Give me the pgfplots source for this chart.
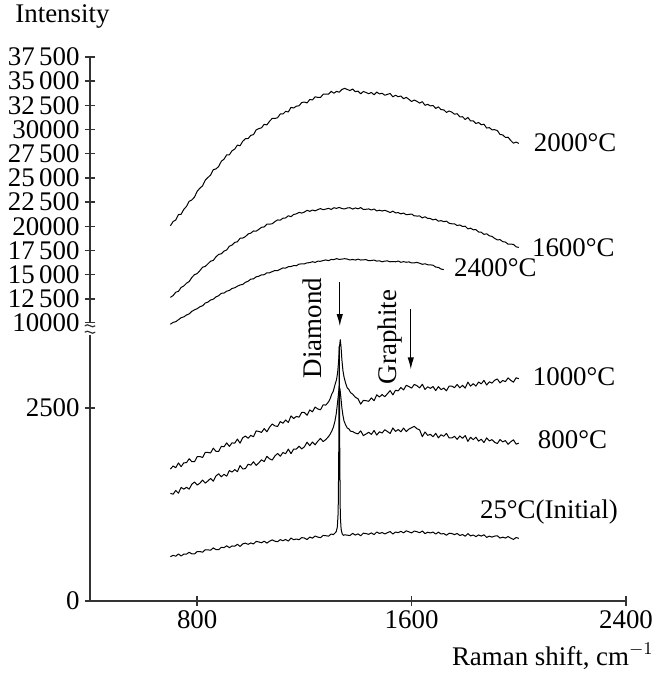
\documentclass[border=0pt]{standalone}
\usepackage{fontspec}
\setmainfont{Liberation Serif}
\usepackage{pgfplots}
\pgfplotsset{compat=1.18}
\usetikzlibrary{arrows.meta}

% one pixel of the layout grid = 0.5bp
\pgfplotsset{
  ramanaxis/.style={
    scale only axis, width=268bp,
    xmin=400, xmax=2400,
    clip=false,
    scaled y ticks=false, scaled x ticks=false,
    tick style={line width=0.75bp, black!80},
    major tick length=5bp,
    tick align=inside,
    every tick label/.append style={font=\fontsize{13.5}{15}\selectfont},
    yticklabel style={inner sep=1bp, xshift=-1.5bp},
    xticklabel style={inner sep=1bp, yshift=-1bp},
  },
  plainlines/.style={
    axis line style={-, line width=0.75bp, black!80},
    x axis line style={-}, y axis line style={-},
  },
  spec/.style={black, line width=0.5bp, line join=round, mark=none},
}

\begin{document}
\fontsize{13.5}{15}\selectfont
\begin{tikzpicture}[font=\fontsize{13.5}{15}\selectfont]
\useasboundingbox (-45bp,-37bp) rectangle (286.5bp,300.5bp);

% ---------- lower part: 0 ... 3450 ----------
\begin{axis}[ramanaxis,
  at={(0,0)}, anchor=south west,
  height=133bp, ymin=0, ymax=3446,
  axis x line=bottom, axis y line=left, plainlines,
  xtick={800,1600,2400}, xticklabels={800,1600,2400},
  ytick={0,2500}, yticklabels={0,2500},
]
% 1000 C
\addplot[spec] coordinates {
(700,1710)(710,1748)(720,1727)(730,1789)(740,1740)(750,1790)(760,1792)(770,1843)(780,1805)(790,1804)
(800,1870)(810,1872)(820,1859)(830,1925)(840,1924)(850,1918)(860,1980)(870,1939)(880,1937)(890,2004)
(900,1998)(910,2048)(920,2003)(930,2049)(940,2044)(950,2098)(960,2044)(970,2115)(980,2137)(990,2108)
(1000,2146)(1010,2128)(1020,2203)(1030,2197)(1040,2184)(1050,2234)(1060,2192)(1070,2251)(1080,2293)(1090,2268)
(1100,2262)(1110,2324)(1120,2303)(1130,2345)(1140,2312)(1150,2398)(1160,2364)(1170,2391)(1180,2381)(1190,2444)
(1200,2442)(1210,2406)(1220,2475)(1230,2451)(1240,2512)(1250,2488)(1260,2477)(1270,2541)(1280,2538)
(1290,2580)(1296,2620)(1302,2680)(1308,2720)(1314,2800)(1320,2870)(1324,2960)(1328,3120)(1331,3300)(1334,3385)
(1337,3280)(1340,3120)(1344,2980)(1348,2900)(1354,2820)(1360,2760)(1366,2740)(1372,2700)(1380,2680)(1390,2640)(1400,2620)
(1410,2550)(1420,2599)(1430,2595)(1440,2587)(1450,2631)(1460,2595)(1470,2671)(1480,2643)(1490,2674)(1500,2646)
(1510,2686)(1520,2726)(1530,2670)(1540,2730)(1550,2722)(1560,2766)(1570,2734)(1580,2794)(1590,2778)(1600,2758)
(1610,2806)(1620,2789)(1630,2761)(1640,2808)(1650,2740)(1660,2775)(1670,2755)(1680,2778)(1690,2726)(1700,2777)
(1710,2738)(1720,2758)(1730,2723)(1740,2783)(1750,2784)(1760,2764)(1770,2805)(1780,2761)(1790,2794)(1800,2758)
(1810,2835)(1820,2783)(1830,2816)(1840,2784)(1850,2837)(1860,2813)(1870,2858)(1880,2798)(1890,2839)(1900,2823)
(1910,2860)(1920,2876)(1930,2825)(1940,2857)(1950,2842)(1960,2890)(1970,2859)(1980,2835)(1990,2892)(2000,2880)
};
% 800 C
\addplot[spec] coordinates {
(700,1395)(710,1383)(720,1432)(730,1396)(740,1472)(750,1449)(760,1473)(770,1449)(780,1513)(790,1542)
(800,1502)(810,1526)(820,1567)(830,1527)(840,1555)(850,1588)(860,1552)(870,1620)(880,1648)(890,1609)
(900,1641)(910,1617)(920,1690)(930,1670)(940,1702)(950,1675)(960,1755)(970,1711)(980,1715)(990,1772)
(1000,1760)(1010,1804)(1020,1757)(1030,1789)(1040,1829)(1050,1806)(1060,1874)(1070,1842)(1080,1826)(1090,1879)
(1100,1911)(1110,1875)(1120,1924)(1130,1908)(1140,1968)(1150,1909)(1160,1969)(1170,1969)(1180,2005)(1190,1970)
(1200,1998)(1210,2057)(1220,2012)(1230,2060)(1240,2023)(1250,2070)(1260,2106)(1270,2065)(1280,2092)
(1290,2130)(1296,2160)(1302,2200)(1308,2250)(1314,2330)(1319,2430)(1323,2550)(1327,2680)(1330,2780)(1333,2740)
(1336,2640)(1340,2500)(1344,2400)(1348,2330)(1354,2280)(1360,2240)(1366,2230)(1372,2200)(1380,2195)(1390,2175)(1400,2165)
(1410,2204)(1420,2143)(1430,2163)(1440,2186)(1450,2158)(1460,2209)(1470,2149)(1480,2192)(1490,2176)(1500,2219)
(1510,2195)(1520,2170)(1530,2242)(1540,2197)(1550,2221)(1560,2192)(1570,2240)(1580,2195)(1590,2227)(1600,2245)
(1610,2262)(1620,2232)(1630,2216)(1640,2129)(1650,2190)(1660,2146)(1670,2159)(1680,2128)(1690,2172)(1700,2113)
(1710,2154)(1720,2134)(1730,2171)(1740,2112)(1750,2112)(1760,2133)(1770,2094)(1780,2138)(1790,2107)(1800,2144)
(1810,2068)(1820,2121)(1830,2090)(1840,2122)(1850,2071)(1860,2096)(1870,2052)(1880,2113)(1890,2074)(1900,2090)
(1910,2055)(1920,2040)(1930,2092)(1940,2061)(1950,2078)(1960,2030)(1970,2063)(1980,2088)(1990,2032)(2000,2045)
};
% 25 C (initial)
\addplot[spec] coordinates {
(700,574)(710,592)(720,580)(730,610)(740,583)(750,607)(760,607)(770,631)(780,611)(790,609)
(800,641)(810,641)(820,632)(830,664)(840,662)(850,658)(860,688)(870,666)(880,664)(890,696)
(900,691)(910,715)(920,691)(930,713)(940,709)(950,735)(960,707)(970,740)(980,750)(990,734)
(1000,752)(1010,739)(1020,772)(1030,765)(1040,754)(1050,775)(1060,750)(1070,775)(1080,792)(1090,775)
(1100,768)(1110,795)(1120,780)(1130,797)(1140,776)(1150,815)(1160,794)(1170,803)(1180,794)(1190,821)
(1200,816)(1210,796)(1220,828)(1230,814)(1240,842)(1250,828)(1260,820)(1270,850)(1280,846)(1290,840)(1300,868)
(1308,860)(1314,880)(1319,900)(1323,960)(1326,1150)(1328,1800)(1329,2600)(1330,3300)(1331,2700)(1332,1900)
(1334,1100)(1337,930)(1341,870)(1346,850)(1350,858)
(1360,853)(1370,848)(1380,876)(1390,854)(1400,870)(1410,845)(1420,879)(1430,873)(1440,864)(1450,882)
(1460,860)(1470,894)(1480,875)(1490,887)(1500,869)(1510,885)(1520,900)(1530,868)(1540,894)(1550,885)
(1560,903)(1570,883)(1580,909)(1590,896)(1600,882)(1610,906)(1620,898)(1630,884)(1640,907)(1650,873)
(1660,891)(1670,881)(1680,893)(1690,867)(1700,892)(1710,868)(1720,874)(1730,852)(1740,878)(1750,874)
(1760,860)(1770,875)(1780,849)(1790,861)(1800,839)(1810,873)(1820,843)(1830,855)(1840,834)(1850,856)
(1860,840)(1870,858)(1880,824)(1890,840)(1900,828)(1910,841)(1920,845)(1930,815)(1940,827)(1950,815)
(1960,835)(1970,814)(1980,798)(1990,822)(2000,812)
};
% peak markers
\draw[-{Latex[length=6bp,width=3.2bp]}, line width=0.6bp] (axis cs:1332,4130) -- (axis cs:1332,3560);
\draw[-{Latex[length=6bp,width=3.2bp]}, line width=0.6bp] (axis cs:1597,3780) -- (axis cs:1597,3000);
\node[rotate=90] at (axis cs:1228,3536) {Diamond};
\node[rotate=90] at (axis cs:1519,3420) {Graphite};
% curve labels
\node[anchor=west, inner sep=0pt] at (axis cs:2051,2900) {1000°C};
\node[anchor=west, inner sep=0pt] at (axis cs:2070,2085) {800°C};
\node[anchor=west, inner sep=0pt] at (axis cs:1854,1153) {25°C(Initial)};
\end{axis}

% ---------- upper part: 10000 ... 37500 ----------
\begin{axis}[ramanaxis,
  at={(0,139bp)}, anchor=south west,
  height=133bp, ymin=10000, ymax=37500,
  axis x line=none, axis y line=left, plainlines,
  xtick=\empty,
  ytick={10000,12500,15000,17500,20000,22500,25000,27500,30000,32500,35000,37500},
  yticklabels={10000,12\,500,15\,000,17\,500,20000,22\,500,25\,000,27\,500,30000,32\,500,35\,000,37\,500},
]
% 2000 C
\addplot[spec] coordinates {
(700,20050)(710,20488)(720,20656)(730,21202)(740,21244)(750,21746)(760,22052)(770,22584)(780,22720)(790,23018)
(800,23622)(810,23938)(820,24182)(830,24766)(840,25044)(850,25294)(860,25850)(870,25928)(880,26176)(890,26720)
(900,26930)(910,27382)(920,27392)(930,27806)(940,27976)(950,28396)(960,28320)(970,28792)(980,29048)(990,29070)
(1000,29398)(1010,29474)(1020,29964)(1030,30094)(1040,30178)(1050,30540)(1060,30478)(1070,30856)(1080,31152)(1090,31142)
(1100,31222)(1110,31608)(1120,31606)(1130,31882)(1140,31816)(1150,32290)(1160,32224)(1170,32418)(1180,32450)(1190,32796)
(1200,32844)(1210,32748)(1220,33110)(1230,33058)(1240,33384)(1250,33322)(1260,33314)(1270,33648)(1280,33666)(1290,33656)
(1300,33952)(1310,33752)(1320,33948)(1330,33856)(1340,34142)(1350,34256)(1360,34144)(1370,34030)(1380,34194)(1390,33908)
(1400,33974)(1410,33690)(1420,33938)(1430,33826)(1440,33706)(1450,33830)(1460,33594)(1470,33872)(1480,33682)(1490,33752)
(1500,33542)(1510,33638)(1520,33724)(1530,33378)(1540,33544)(1550,33394)(1560,33468)(1570,33190)(1580,33326)(1590,33120)
(1600,32896)(1610,33050)(1620,32916)(1630,32728)(1640,32882)(1650,32504)(1660,32604)(1670,32442)(1680,32488)(1690,32182)
(1700,32344)(1710,32056)(1720,32038)(1730,31768)(1740,31920)(1750,31802)(1760,31584)(1770,31636)(1780,31310)(1790,31326)
(1800,31036)(1810,31250)(1820,30888)(1830,30894)(1840,30622)(1850,30728)(1860,30492)(1870,30552)(1880,30154)(1890,30196)
(1900,29976)(1910,29980)(1920,29894)(1930,29492)(1940,29448)(1950,29188)(1960,29206)(1970,28864)(1980,28588)(1990,28712)
(2000,28560)
};
% 1600 C
\addplot[spec] coordinates {
(700,12650)(710,12834)(720,13183)(730,13276)(740,13677)(750,13828)(760,14111)(770,14287)(780,14705)(790,14999)
(800,15106)(810,15414)(820,15766)(830,15848)(840,16117)(850,16387)(860,16470)(870,16834)(880,17088)(890,17160)
(900,17430)(910,17551)(920,17936)(930,18063)(940,18333)(950,18398)(960,18760)(970,18781)(980,18934)(990,19205)
(1000,19289)(1010,19517)(1020,19492)(1030,19682)(1040,19894)(1050,19930)(1060,20219)(1070,20218)(1080,20261)(1090,20486)
(1100,20656)(1110,20629)(1120,20833)(1130,20856)(1140,21088)(1150,20990)(1160,21222)(1170,21279)(1180,21435)(1190,21363)
(1200,21467)(1210,21649)(1220,21545)(1230,21684)(1240,21592)(1250,21726)(1260,21827)(1270,21709)(1280,21778)(1290,21853)
(1300,21741)(1310,21916)(1320,21849)(1330,21953)(1340,21826)(1350,21793)(1360,21892)(1370,21920)(1380,21772)(1390,21894)
(1400,21807)(1410,21930)(1420,21734)(1430,21758)(1440,21793)(1450,21680)(1460,21787)(1470,21581)(1480,21661)(1490,21576)
(1500,21656)(1510,21539)(1520,21422)(1530,21564)(1540,21387)(1550,21407)(1560,21284)(1570,21365)(1580,21193)(1590,21225)
(1600,21268)(1610,21075)(1620,21058)(1630,21064)(1640,20861)(1650,20982)(1660,20817)(1670,20801)(1680,20664)(1690,20736)
(1700,20522)(1710,20583)(1720,20479)(1730,20529)(1740,20315)(1750,20256)(1760,20252)(1770,20078)(1780,20135)(1790,19978)
(1800,20008)(1810,19730)(1820,19804)(1830,19637)(1840,19646)(1850,19409)(1860,19381)(1870,19161)(1880,19227)(1890,19013)
(1900,18953)(1910,18745)(1920,18592)(1930,18616)(1940,18409)(1950,18369)(1960,18153)(1970,18152)(1980,18129)(1990,17876)
(2000,17810)
};
% 2400 C
\addplot[spec] coordinates {
(700,9870)(710,10063)(720,10137)(730,10336)(740,10549)(750,10632)(760,10827)(770,10943)(780,11206)(790,11360)
(800,11479)(810,11679)(820,11781)(830,12063)(840,12163)(850,12377)(860,12458)(870,12696)(880,12822)(890,13070)
(900,13094)(910,13289)(920,13365)(930,13574)(940,13636)(950,13803)(960,13935)(970,13987)(980,14207)(990,14319)
(1000,14536)(1010,14563)(1020,14772)(1030,14833)(1040,14971)(1050,14991)(1060,15193)(1070,15187)(1080,15314)(1090,15425)
(1100,15424)(1110,15560)(1120,15689)(1130,15675)(1140,15822)(1150,15836)(1160,15941)(1170,15917)(1180,16096)(1190,16102)
(1200,16108)(1210,16223)(1220,16233)(1230,16338)(1240,16261)(1250,16390)(1260,16379)(1270,16454)(1280,16522)(1290,16445)
(1300,16571)(1310,16547)(1320,16656)(1330,16575)(1340,16606)(1350,16649)(1360,16608)(1370,16514)(1380,16567)(1390,16508)
(1400,16603)(1410,16509)(1420,16534)(1430,16547)(1440,16441)(1450,16463)(1460,16506)(1470,16397)(1480,16435)(1490,16327)
(1500,16401)(1510,16419)(1520,16325)(1530,16357)(1540,16326)(1550,16405)(1560,16274)(1570,16343)(1580,16279)(1590,16317)
(1600,16208)(1610,16218)(1620,16263)(1630,16179)(1640,16067)(1650,16125)(1660,16022)(1670,16006)(1680,15976)(1690,15781)
(1700,15747)(1710,15575)(1720,15522)
};
\node[anchor=west, inner sep=0pt] at (axis cs:2055,28600) {2000°C};
\node[anchor=west, inner sep=0pt] at (axis cs:2048,17750) {1600°C};
\node[anchor=west, inner sep=0pt] at (axis cs:1757,15680) {2400°C};
\end{axis}

% axis break on the intensity axis
\fill[white] (-3bp,133.2bp) rectangle (3bp,138.8bp);
\draw[line width=0.6bp, black!80] (-2.6bp,137.6bp) .. controls (-1bp,139.4bp) and (1bp,135.8bp) .. (2.6bp,137.6bp);
\draw[line width=0.6bp, black!80] (-2.6bp,134.4bp) .. controls (-1bp,136.2bp) and (1bp,132.6bp) .. (2.6bp,134.4bp);

% axis titles
\node[anchor=base west, inner sep=0pt] at (-37.5bp,289bp) {Intensity};
\node[anchor=base east, inner sep=0pt] at (282bp,-32bp) {Raman shift, cm$^{-1}$};
\end{tikzpicture}
\end{document}
